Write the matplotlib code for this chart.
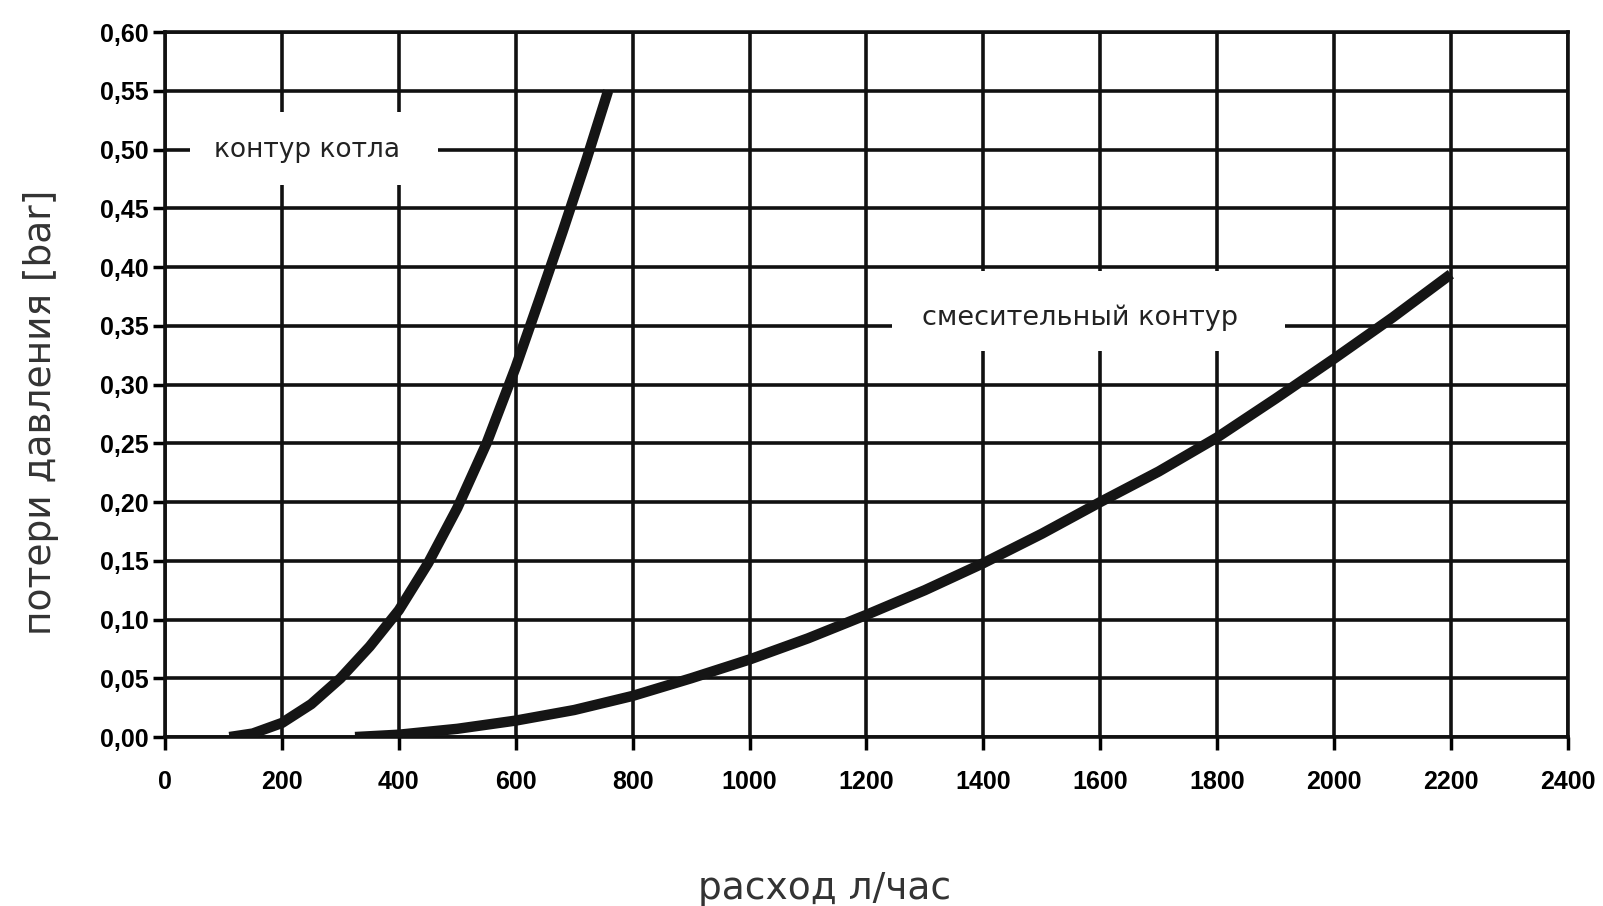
import matplotlib.pyplot as plt
from matplotlib.patches import Rectangle

# контур котла (boiler circuit)
boiler_x = [110, 150, 200, 250, 300, 350, 400, 450, 500, 550, 600, 640, 680, 720, 758]
boiler_y = [0.0, 0.003, 0.012, 0.028, 0.050, 0.077, 0.108, 0.148, 0.195, 0.250, 0.315, 0.372, 0.430, 0.490, 0.550]

# смесительный контур (mixing circuit)
mix_x = [325, 400, 500, 600, 700, 800, 900, 1000, 1100, 1200, 1300, 1400, 1500, 1600, 1700, 1800, 1900, 2000, 2100, 2200]
mix_y = [0.0, 0.002, 0.007, 0.014, 0.023, 0.035, 0.05, 0.066, 0.084, 0.104, 0.125, 0.148, 0.173, 0.20, 0.226, 0.255, 0.288, 0.322, 0.357, 0.394]

x_ticks = list(range(0, 2401, 200))
y_ticks = [i * 0.05 for i in range(13)]
y_labels = ['%.2f' % v for v in y_ticks]
y_labels = [s.replace('.', ',') for s in y_labels]

plt.rcParams['font.family'] = ['DejaVu Sans']

fig = plt.figure(figsize=(16.03, 9.06), dpi=100)
ax = fig.add_axes([0.103, 0.1865, 0.875, 0.778])

ax.set_xlim(0, 2400)
ax.set_ylim(0, 0.60)
ax.set_xticks(x_ticks)
ax.set_yticks(y_ticks)
ax.set_yticklabels(y_labels)
for lab in ax.get_xticklabels() + ax.get_yticklabels():
    lab.set_family(['Liberation Sans', 'DejaVu Sans'])
    lab.set_fontweight('bold')
    lab.set_fontsize(18)
ax.tick_params(axis='x', direction='out', length=9, width=2.5, pad=15, color='black')
ax.tick_params(axis='y', direction='out', length=9, width=2.5, pad=3, color='black')

ax.grid(True, color='#111111', linewidth=2.6, zorder=1)
ax.set_axisbelow(True)
for s in ax.spines.values():
    s.set_linewidth(2.6)
    s.set_color('#111111')

# white label boxes which break the grid
ax.add_patch(Rectangle((43, 0.470), 424, 0.062, facecolor='white', edgecolor='none', zorder=2))
ax.add_patch(Rectangle((1244, 0.329), 672, 0.068, facecolor='white', edgecolor='none', zorder=2))
ax.text(243, 0.500, 'контур котла', fontsize=19, ha='center', va='center', color='#222222', zorder=3)
ax.text(1565, 0.357, 'смесительный контур', fontsize=19.5, ha='center', va='center', color='#222222', zorder=3)

ax.plot(boiler_x, boiler_y, color='#151515', linewidth=7.5, solid_capstyle='butt',
        solid_joinstyle='round', zorder=4)
ax.plot(mix_x, mix_y, color='#151515', linewidth=7.5, solid_capstyle='butt',
        solid_joinstyle='round', zorder=4)

ax.set_xlabel('расход л/час', fontsize=27, color='#333333', labelpad=0)
ax.xaxis.set_label_coords(0.47, -0.19)
ax.set_ylabel('потери давления [bar]', fontsize=27, color='#333333')
ax.yaxis.set_label_coords(-0.076, 0.46)

plt.savefig('out.png', dpi=100)
